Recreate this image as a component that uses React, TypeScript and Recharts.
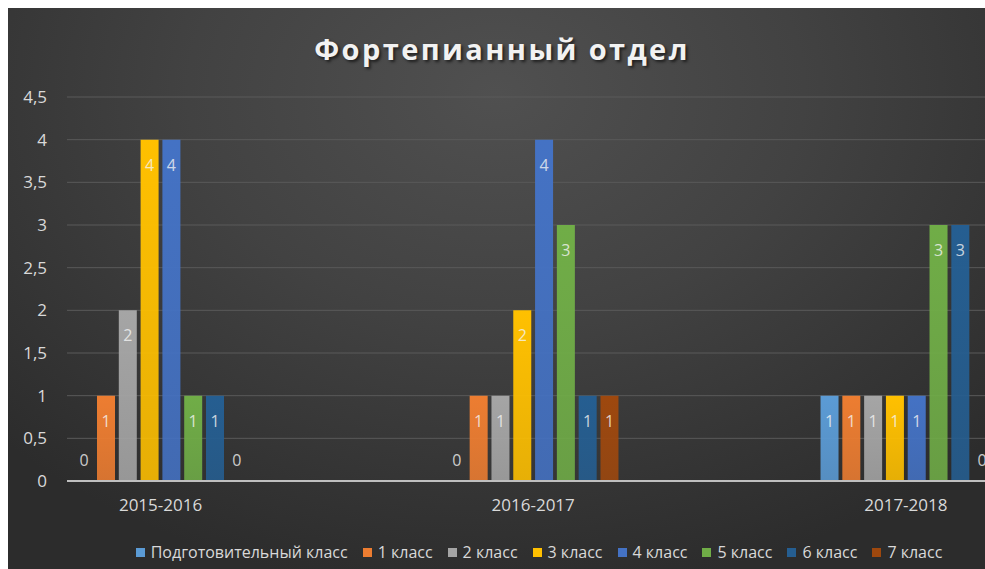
import React from 'react';
import { BarChart, Bar, XAxis, YAxis, CartesianGrid, Legend, LabelList } from 'recharts';

const years = ['2015-2016', '2016-2017', '2017-2018'];

const prepClass = [0, 0, 1];
const class1 = [1, 1, 1];
const class2 = [2, 1, 1];
const class3 = [4, 2, 1];
const class4 = [4, 4, 1];
const class5 = [1, 3, 3];
const class6 = [1, 1, 3];
const class7 = [0, 1, 0];

const seriesNames = [
    'Подготовительный класс',
    '1 класс',
    '2 класс',
    '3 класс',
    '4 класс',
    '5 класс',
    '6 класс',
    '7 класс',
];
const seriesValues = [prepClass, class1, class2, class3, class4, class5, class6, class7];
const seriesColors = ['#5B9BD5', '#ED7D31', '#A5A5A5', '#FFC000', '#4472C4', '#70AD47', '#255E91', '#9E480E'];

const yTicks = [0, 0.5, 1, 1.5, 2, 2.5, 3, 3.5, 4, 4.5];

const data = years.map((year, i) => {
    const row: Record<string, string | number> = { year };
    seriesValues.forEach((vals, s) => {
        row['s' + s] = vals[i];
    });
    return row;
});

const FONT = '"Open Sans", "Noto Sans", sans-serif';

const renderBarLabel = (props: any) => {
    const { x, y, width, height, value } = props;
    const cx = Number(x) + Number(width) / 2;
    const isZero = Number(value) === 0;
    // zero bars: Excel puts the label just above the axis
    const ty = isZero ? Number(y) + Number(height) - 15 : Number(y) + 31;
    return (
        <text
            x={cx}
            y={ty}
            textAnchor="middle"
            fontSize={16}
            fontFamily={FONT}
            fill="#f4f4f4"
            fillOpacity={0.8}
        >
            {value}
        </text>
    );
};

const renderLegend = () => (
    <div
        style={{
            display: 'flex',
            justifyContent: 'center',
            alignItems: 'center',
            paddingLeft: 85,
            height: 20,
            fontFamily: FONT,
            fontSize: 16,
            color: '#d9d9d9',
            whiteSpace: 'nowrap',
        }}
    >
        {seriesNames.map((name, i) => (
            <span key={name} style={{ display: 'inline-flex', alignItems: 'center', marginRight: i < 7 ? 15 : 0 }}>
                <span style={{ width: 9, height: 9, background: seriesColors[i], marginRight: 6, display: 'inline-block' }} />
                {name}
            </span>
        ))}
    </div>
);

const App: React.FC = () => {
    return (
        <div
            style={{
                position: 'absolute',
                left: 8,
                top: 8,
                width: 977,
                height: 561,
                background: 'radial-gradient(ellipse 70% 90% at 50% 15%, #505050 0%, #424242 45%, #2c2c2c 100%)',
                overflow: 'hidden',
            }}
        >
            <div
                style={{
                    position: 'absolute',
                    left: 0,
                    width: 988,
                    top: 21,
                    textAlign: 'center',
                    fontFamily: FONT,
                    fontWeight: 700,
                    fontSize: 29,
                    letterSpacing: 2.4,
                    color: '#f2f2f2',
                    textShadow: '2px 2px 3px rgba(0,0,0,0.6)',
                }}
            >
                Фортепианный отдел
            </div>
            <BarChart
                width={977}
                height={561}
                data={data}
                margin={{ top: 89, right: 0, left: 0, bottom: 38 }}
                barSize={18}
                barGap={3.8}
            >
                <defs>
                    {seriesColors.map((c, i) => (
                        <linearGradient key={c} id={'grad' + i} x1="0" y1="0" x2="0" y2="1">
                            <stop offset="0%" stopColor={c} stopOpacity={1} />
                            <stop offset="100%" stopColor={c} stopOpacity={0.88} />
                        </linearGradient>
                    ))}
                </defs>
                <CartesianGrid vertical={false} stroke="#5a5a5a" strokeWidth={1} />
                <XAxis
                    dataKey="year"
                    padding={{ left: -92.8, right: -107.2 }}
                    axisLine={{ stroke: '#bfbfbf', strokeWidth: 2 }}
                    tickLine={false}
                    tickSize={0}
                    tickMargin={18}
                    height={30}
                    tick={{ fill: '#d9d9d9', fontSize: 17, fontFamily: FONT }}
                />
                <YAxis
                    domain={[0, 4.5]}
                    ticks={yTicks}
                    width={59}
                    axisLine={false}
                    tickLine={false}
                    tickSize={0}
                    tickMargin={20}
                    tickFormatter={(v: number) => String(v).replace('.', ',')}
                    tick={{ fill: '#d9d9d9', fontSize: 17, fontFamily: FONT }}
                />
                <Legend
                    content={renderLegend}
                    wrapperStyle={{ left: 0, top: 534, width: 977 }}
                />
                {seriesNames.map((name, i) => (
                    <Bar
                        key={name}
                        dataKey={'s' + i}
                        name={name}
                        fill={`url(#grad${i})`}
                        minPointSize={0.01}
                        isAnimationActive={false}
                    >
                        <LabelList dataKey={'s' + i} content={renderBarLabel} />
                    </Bar>
                ))}
            </BarChart>
        </div>
    );
};

export default App;
